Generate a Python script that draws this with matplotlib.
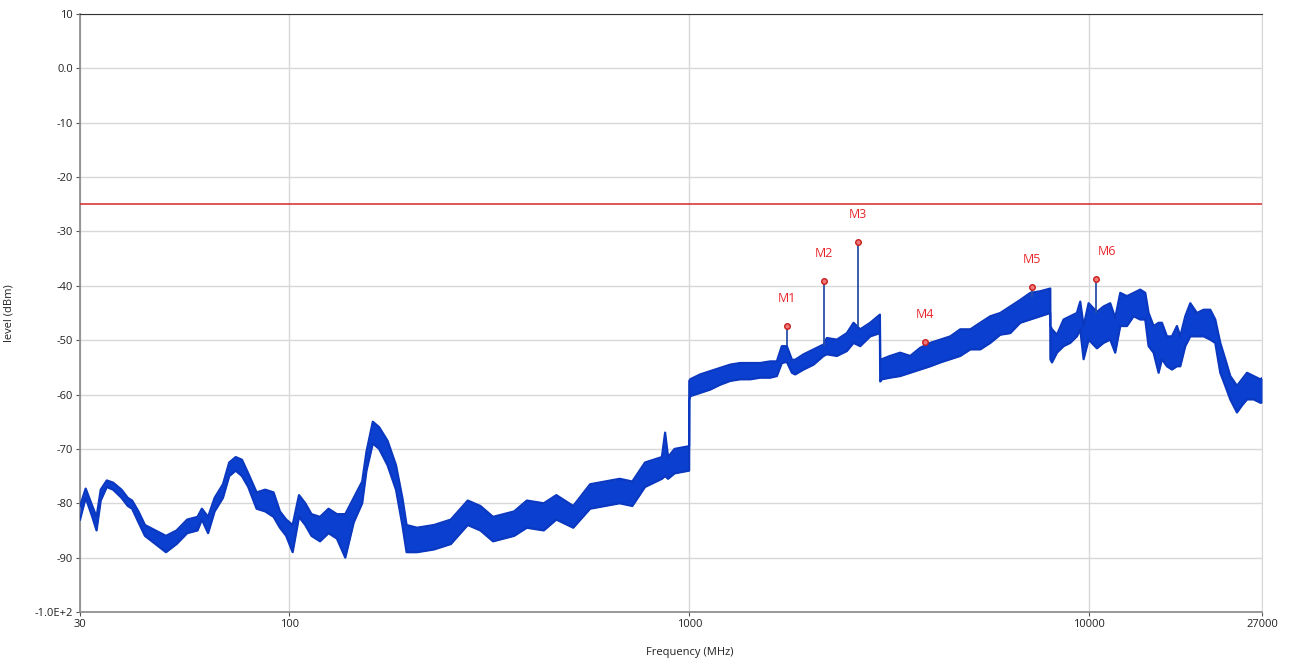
import numpy as np
import matplotlib
matplotlib.use("Agg")
import matplotlib.pyplot as plt
from matplotlib.ticker import FixedLocator, NullLocator

# spectrum envelope: frequency (MHz), top and bottom of the noise band (dBm)
freq_mhz = [30, 31, 32.2, 33.0, 33.8, 35.0, 36.3, 38.1, 39.5, 40.5, 42.0, 43.6, 46.3, 49.2,
            52.3, 55.6, 59.0, 60.5, 62.7, 65.1, 68.3, 70.8, 73.5, 76.2, 79.0, 82.9, 87.1,
            91.4, 94.8, 98.3, 102, 105.8, 109.7, 113.7, 119.4, 125.4, 131.6, 138.1, 145.0,
            152.2, 156, 161.8, 167.8, 176.1, 184.9, 191.8, 196.5, 208.7, 230, 253.5, 279.4,
            300.5, 323.2, 364.9, 392.6, 432.7, 465.3, 512.8, 565.1, 669.9, 720.4, 775, 854,
            870, 885, 918.7, 999,
            1000, 1005, 1064, 1127, 1194, 1265, 1340, 1420, 1504, 1593, 1655, 1703, 1753,
            1805, 1839, 1930, 2044, 2165, 2207, 2338, 2476, 2573, 2674, 2832, 2995,
            3000, 3029, 3176, 3365, 3565, 3777, 4002, 4240, 4492, 4755, 5040, 5335, 5654,
            5986, 6343, 6717, 7118, 7536, 7983,
            7990, 8062, 8296, 8619, 8955, 9305, 9487, 9672, 9954, 10443, 10849, 11273,
            11602, 11943, 12410, 12896, 13400, 13792, 14058, 14469, 14892, 15180, 15625,
            16081, 16551, 16870, 17363, 17871, 18570, 19294, 20048, 20634, 21238, 21859,
            22497, 23379, 24063, 24768, 25735, 26738, 27000]
level_hi = [-80.5, -77.3, -80.5, -82.5, -77.5, -75.8, -76.2, -77.5, -79, -79.5, -81.5, -84,
            -85, -86, -85, -83, -82.5, -81, -82.5, -79, -76.5, -72.5, -71.5, -72, -74.5, -78,
            -77.5, -78, -81.5, -83, -84, -78.5, -80, -82, -82.5, -81, -82, -82, -79, -76,
            -70.5, -65, -66, -68.5, -73, -79, -84, -84.5, -84, -83, -79.5, -80.5, -82.5,
            -81.5, -79.5, -80, -78.5, -80.5, -76.5, -75.5, -76, -72.5, -71.5, -67, -71.5,
            -70, -69.5,
            -57.5, -57.2, -56.3, -55.7, -55.1, -54.5, -54.2, -54.2, -54.2, -53.9, -53.9,
            -51.1, -51.1, -53.6, -53.6, -52.6, -51.7, -50.8, -49.6, -49.9, -48.7, -46.8,
            -48, -46.8, -45.3,
            -53.5, -53.5, -52.9, -52.3, -52.9, -51.4, -50.5, -49.9, -49.3, -48, -48, -46.8,
            -45.6, -45, -43.8, -42.6, -41.3, -41, -40.5,
            -47.4, -48, -49, -46.2, -45.6, -45, -42.9, -47.4, -43.2, -44.8, -43.8, -43.2,
            -45.9, -41.3, -41.9, -41.3, -40.7, -41.3, -45, -47.4, -46.8, -46.8, -49.3,
            -49.3, -47.4, -49.3, -45.6, -43.2, -45, -44.4, -44.4, -46.2, -50.5, -53.5,
            -56.6, -58.4, -57.2, -56, -56.6, -57.2, -57]
level_lo = [-83, -79, -82.5, -85, -79.5, -77, -77.5, -79, -80.5, -81, -83.5, -86, -87.5, -89,
            -87.5, -85.5, -85, -83, -85.5, -81.5, -79, -75, -74, -75, -77, -81, -81.5, -82.5,
            -84.5, -86, -89, -82.5, -84, -86, -87, -85.5, -86.5, -90, -83.5, -80, -74, -69,
            -70, -73, -77.5, -84, -89, -89, -88.5, -87.5, -84, -85, -87, -86, -84.5, -85,
            -83, -84.5, -81, -80, -80.5, -77, -75.5, -75, -75.5, -74.5, -74,
            -61, -60.3, -59.7, -59.1, -58.2, -57.5, -57.2, -57.2, -56.9, -56.9, -56.6,
            -54.2, -54.0, -56, -56.3, -55.4, -54.5, -52.9, -52.6, -52.9, -52, -50.5,
            -51.1, -49.3, -48.7,
            -57.6, -57.2, -56.9, -56.6, -56, -55.4, -54.8, -54.1, -53.5, -52.9, -51.7, -51.7,
            -50.5, -49, -48.7, -46.8, -46.2, -45.6, -45,
            -53.5, -54.1, -52.3, -51.1, -50.5, -49.3, -48, -53.5, -49.9, -51.5, -50.5, -49.9,
            -52.3, -47.4, -47.4, -45.6, -46.2, -46.2, -51.1, -52.3, -56, -53.5, -54.8,
            -55.4, -54.8, -54.8, -51.1, -49.3, -49.3, -49.3, -49.9, -50.5, -56, -58.4,
            -60.9, -63.3, -62, -60.9, -60.9, -61.5, -61.5]

# markers
marker_names = ["M1", "M2", "M3", "M4", "M5", "M6"]
marker_freq = [1755, 2173, 2637, 3873, 7183, 10400]
marker_level = [-47.3, -39.1, -32.0, -50.3, -40.2, -38.7]
spike_base = [-51, -51, -47.5, -51, -42, -45]

limit_level = -25

x_ticks = [30, 100, 1000, 10000, 27000]
y_ticks = [10, 0, -10, -20, -30, -40, -50, -60, -70, -80, -90, -100]
y_labels = ["10", "0.0", "-10", "-20", "-30", "-40", "-50", "-60", "-70", "-80", "-90", "-1.0E+2"]

plt.rcParams['font.family'] = ['Open Sans', 'DejaVu Sans']

fig = plt.figure(figsize=(12.9, 6.64), dpi=100)
ax = fig.add_axes([80 / 1290, 52 / 664, 1182 / 1290, 598 / 664])

trace_col = "#0b3fcf"
ax.fill_between(freq_mhz, level_lo, level_hi, color=trace_col, linewidth=0, zorder=3)
ax.plot(freq_mhz, level_hi, color="#0a38c0", lw=1.6, zorder=3)
ax.plot(freq_mhz, level_lo, color="#0a38c0", lw=1.6, zorder=3)

# marker spikes
ax.vlines(marker_freq, spike_base, marker_level, color="#2a4fa8", lw=1.3, zorder=3)

ax.axhline(limit_level, color="#d42a2a", lw=1.1, zorder=4)

ax.plot(marker_freq, marker_level, "o", ms=4, mfc="#f07a7a", mec="#c81e1e", mew=1, zorder=5)
for ii, name in enumerate(marker_names):
    dx = 8 if name == "M6" else 0
    ax.annotate(name, (marker_freq[ii], marker_level[ii]), xytext=(dx, 15),
                textcoords="offset points", ha="center", va="bottom",
                color="#e8262a", fontsize=9)

ax.set_xscale("log")
ax.set_xlim(30, 27000)
ax.set_ylim(-100, 10)
ax.xaxis.set_major_locator(FixedLocator(x_ticks))
ax.xaxis.set_minor_locator(NullLocator())
ax.set_xticklabels([str(t) for t in x_ticks])
ax.set_yticks(y_ticks)
ax.set_yticklabels(y_labels)
ax.tick_params(axis="both", labelsize=8, length=3, color="#555555", labelcolor="#222222", pad=2)

ax.grid(True, color="#d8d8d8", lw=1)
ax.set_axisbelow(True)
for side in ["left", "bottom"]:
    ax.spines[side].set_color("#888888")
    ax.spines[side].set_linewidth(1.2)
ax.spines["top"].set_color("#333333")
ax.spines["right"].set_color("#d8d8d8")

ax.set_xlabel("Frequency (MHz)", fontsize=8, color="#222222", labelpad=2)
ax.xaxis.set_label_coords(0.516, -0.058)
ax.set_ylabel("level (dBm)", fontsize=8, color="#222222")
ax.yaxis.set_label_coords(-0.055, 0.5)

fig.savefig("out.png", dpi=100)
